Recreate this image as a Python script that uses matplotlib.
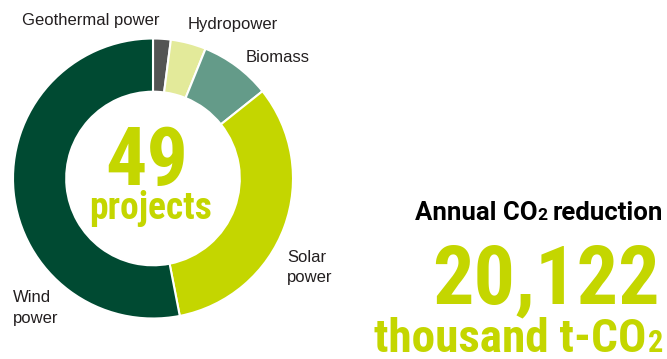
import matplotlib
matplotlib.use('Agg')
import matplotlib.pyplot as plt

# project counts by energy source, clockwise from 12 o'clock
sources = ['Geothermal power', 'Hydropower', 'Biomass', 'Solar power', 'Wind power']
projects = [1, 2, 4, 16, 26]
colors = ['#545454', '#e3ea9a', '#649b89', '#c4d600', '#004a32']

total_projects = sum(projects)
co2_reduction = '20,122'

LIME = '#c4d600'
LABEL = '#231f20'
COND = ['Roboto Condensed', 'DejaVu Sans']
HEAD = ['Roboto', 'DejaVu Sans']
PLAIN = ['Liberation Sans', 'DejaVu Sans']

W, H = 667, 359
fig = plt.figure(figsize=(W / 100, H / 100), dpi=100)
ax = fig.add_axes([0, 0, 1, 1])

# donut, drawn in pixel units (y measured from the bottom)
cx, cy, r = 153, H - 178.5, 140
ax.pie(projects, colors=colors, startangle=90, counterclock=False,
       center=(cx, cy), radius=r, frame=True,
       wedgeprops=dict(width=r * 0.38, edgecolor='white', linewidth=1.5))
ax.set_xlim(0, W)
ax.set_ylim(0, H)
ax.axis('off')

renderer = fig.canvas.get_renderer()


def right_run(x, y, pieces):
    """Lay out text pieces right to left so that the last one ends at x.
    Each piece is (text, fontsize, gap_after, kwargs)."""
    for s, size, gap, kw in reversed(pieces):
        x -= gap
        t = ax.text(x, y, s, fontsize=size, ha='right', va='baseline', **kw)
        bb = t.get_window_extent(renderer)
        x -= bb.width


# category labels
lab = dict(fontsize=12, color=LABEL, family=PLAIN, va='baseline', ha='left')
ax.text(22, H - 25, 'Geothermal power', **lab)
ax.text(188, H - 29.5, 'Hydropower', **lab)
ax.text(246, H - 62.5, 'Biomass', **lab)
ax.text(287, H - 261.5, 'Solar', **lab)
ax.text(287, H - 282, 'power', **lab)
ax.text(13, H - 301.5, 'Wind', **lab)
ax.text(13, H - 322.5, 'power', **lab)

# centre figure
ax.text(147, H - 185, str(total_projects), fontsize=59, weight='bold', color=LIME,
        family=COND, ha='center', va='baseline')
ax.text(151, H - 219, 'projects', fontsize=27, weight='bold', color=LIME,
        family=COND, ha='center', va='baseline')

# annual CO2 reduction block
head = dict(weight='bold', color='black', family=HEAD)
right_run(663, H - 220, [('Annual CO', 18.5, 0, head),
                         ('2', 12.5, 5, head),
                         ('reduction', 18.5, 0, head)])
ax.text(660, H - 303, co2_reduction, fontsize=59, weight='bold', color=LIME,
        family=COND, ha='right', va='baseline')
big = dict(weight='bold', color=LIME, family=COND)
right_run(663, H - 351.5, [('thousand t-CO', 34, 1, big),
                           ('2', 22, 0, big)])

fig.savefig('out.png', dpi=100)
